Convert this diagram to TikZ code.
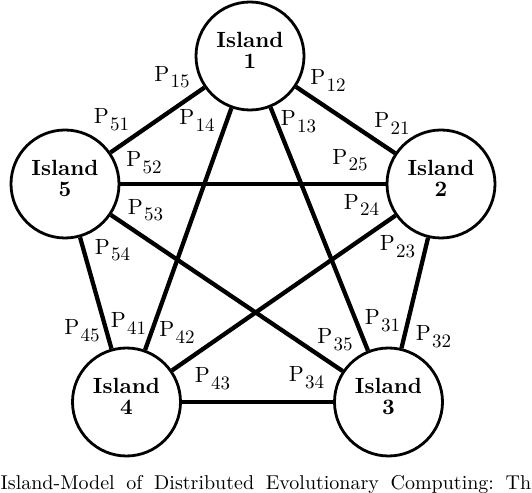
\documentclass[tikz,border=0pt]{standalone}
\usepackage{fontspec}
\setmainfont{lmroman10-regular.otf}[BoldFont=lmroman10-bold.otf,ItalicFont=lmroman10-italic.otf,BoldItalicFont=lmroman10-bolditalic.otf]
\newcommand{\plab}[1]{P\kern1.5pt\raisebox{-6.5pt}{\fontsize{19}{19}\selectfont #1}}
\newcommand{\isl}[1]{\shortstack{Island\\\rule{0pt}{18pt}#1}}
\begin{document}
\begin{tikzpicture}[x=1pt,y=1pt,
  island/.style={circle,draw,fill=white,line width=2.8pt,minimum size=108pt,inner sep=0pt,
    font=\fontsize{22}{22}\selectfont\bfseries,text depth=10.5pt},
  link/.style={line width=4.3pt},
  plabel/.style={inner sep=0pt,font=\fontsize{22}{22}\selectfont}]
\useasboundingbox (0,0) rectangle (532,492);
\node[island] (i1) at (250,436) {\isl{1}};
\node[island] (i2) at (441,308) {\isl{2}};
\node[island] (i3) at (388.5,90) {\isl{3}};
\node[island] (i4) at (126.5,90) {\isl{4}};
\node[island] (i5) at (65,308) {\isl{5}};
\draw[link] (i1) -- (i2);
\draw[link] (i1) -- (i3);
\draw[link] (i1) -- (i4);
\draw[link] (i1) -- (i5);
\draw[link] (i2) -- (i3);
\draw[link] (i2) -- (i4);
\draw[link] (i2) -- (i5);
\draw[link] (i3) -- (i4);
\draw[link] (i3) -- (i5);
\draw[link] (i4) -- (i5);
\node[plabel] (p15) at (172,415) {\plab{15}};
\node[plabel] (p12) at (328,411.5) {\plab{12}};
\node[plabel] (p14) at (197,371.5) {\plab{14}};
\node[plabel] (p13) at (298.5,370.5) {\plab{13}};
\node[plabel] (p51) at (111.5,372.5) {\plab{51}};
\node[plabel] (p21) at (392,368.5) {\plab{21}};
\node[plabel] (p52) at (144,329.5) {\plab{52}};
\node[plabel] (p53) at (145.5,282) {\plab{53}};
\node[plabel] (p54) at (112.5,242) {\plab{54}};
\node[plabel] (p25) at (350,332) {\plab{25}};
\node[plabel] (p24) at (361.5,287) {\plab{24}};
\node[plabel] (p23) at (397.5,245.5) {\plab{23}};
\node[plabel] (p45) at (82,161.5) {\plab{45}};
\node[plabel] (p41) at (128.5,168.5) {\plab{41}};
\node[plabel] (p42) at (177,159.5) {\plab{42}};
\node[plabel] (p43) at (212.5,113.5) {\plab{43}};
\node[plabel] (p34) at (306.5,114.5) {\plab{34}};
\node[plabel] (p35) at (335,152.5) {\plab{35}};
\node[plabel] (p31) at (382.5,171.5) {\plab{31}};
\node[plabel] (p32) at (433.5,155.5) {\plab{32}};
\node[anchor=base west,inner sep=0pt,font=\fontsize{20}{20}\selectfont] (cap) at (0.5,3)
  {\hbox to 505pt{Island-Model\hfill of\hfill Distributed\hfill Evolutionary\hfill Computing:\hfill}Th};
\end{tikzpicture}
\end{document}
